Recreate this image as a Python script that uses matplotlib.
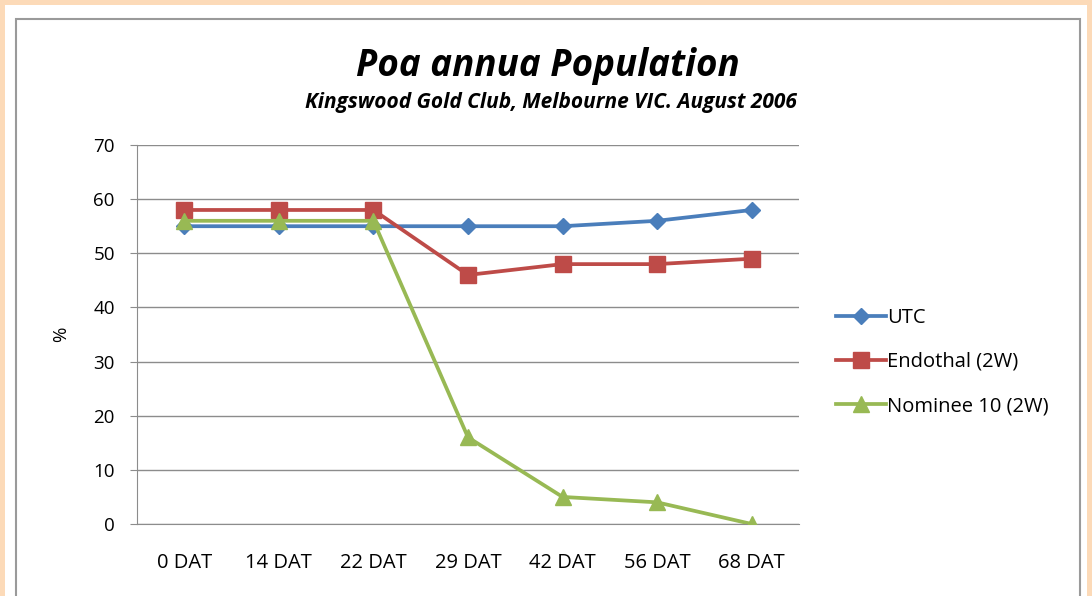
import matplotlib.pyplot as plt
from matplotlib.patches import Rectangle

categories = ["0 DAT", "14 DAT", "22 DAT", "29 DAT", "42 DAT", "56 DAT", "68 DAT"]
utc = [55, 55, 55, 55, 55, 56, 58]
endothal = [58, 58, 58, 46, 48, 48, 49]
nominee = [56, 56, 56, 16, 5, 4, 0]

plt.rcParams["font.family"] = ["Open Sans", "DejaVu Sans"]

fig = plt.figure(figsize=(10.92, 5.96), dpi=100)
fig.patch.set_facecolor("#FCDAB8")

# white panel and chart border
fig.add_artist(Rectangle((5 / 1092, 0), 1082 / 1092, 591 / 596, transform=fig.transFigure,
                         facecolor="white", edgecolor="none", zorder=-2))
fig.add_artist(Rectangle((16 / 1092, -0.05), 1064 / 1092, 1 - 19 / 596 + 0.05, transform=fig.transFigure,
                         facecolor="white", edgecolor="#9A9A9A", linewidth=1.5, zorder=-1))

ax = fig.add_axes([137 / 1092, 1 - 524 / 596, 662 / 1092, 379 / 596])
ax.set_facecolor("none")
x = range(len(categories))

ax.plot(x, utc, color="#4A7EBB", lw=2.7, marker="D", ms=8, label="UTC", zorder=3)
ax.plot(x, endothal, color="#BE4B48", lw=2.7, marker="s", ms=11.5, label="Endothal (2W)", zorder=4)
ax.plot(x, nominee, color="#98B954", lw=2.7, marker="^", ms=12, label="Nominee 10 (2W)", zorder=5)

ax.set_xlim(-0.5, len(categories) - 0.5)
ax.set_ylim(0, 70)
ax.set_yticks(range(0, 71, 10))
ax.set_xticks(list(x))
ax.set_xticklabels(categories)
ax.yaxis.grid(True, color="#8C8C8C", lw=1)
ax.set_axisbelow(True)
for s in ["top", "right"]:
    ax.spines[s].set_visible(False)
for s in ["left", "bottom"]:
    ax.spines[s].set_color("#8C8C8C")
ax.tick_params(axis="y", length=5, color="#8C8C8C", labelsize=13.5, pad=11)
ax.tick_params(axis="x", length=0, labelsize=14.5, pad=21)
ax.set_ylabel("%", fontsize=13.5, labelpad=17)

fig.text(548 / 1092, 1 - 66 / 596, "Poa annua Population", ha="center", va="center",
         fontsize=26.5, fontweight="bold", fontstyle="italic")
fig.text(551 / 1092, 1 - 103 / 596, "Kingswood Gold Club, Melbourne VIC. August 2006", ha="center",
         va="center", fontsize=15, fontweight="bold", fontstyle="italic")

fig.legend(loc="center left", bbox_to_anchor=(818 / 1092, 1 - 362 / 596), frameon=False,
           fontsize=14.5, handlelength=2.5, handletextpad=0.05, labelspacing=1.2)

fig.savefig("out.png", dpi=100, facecolor=fig.get_facecolor())
